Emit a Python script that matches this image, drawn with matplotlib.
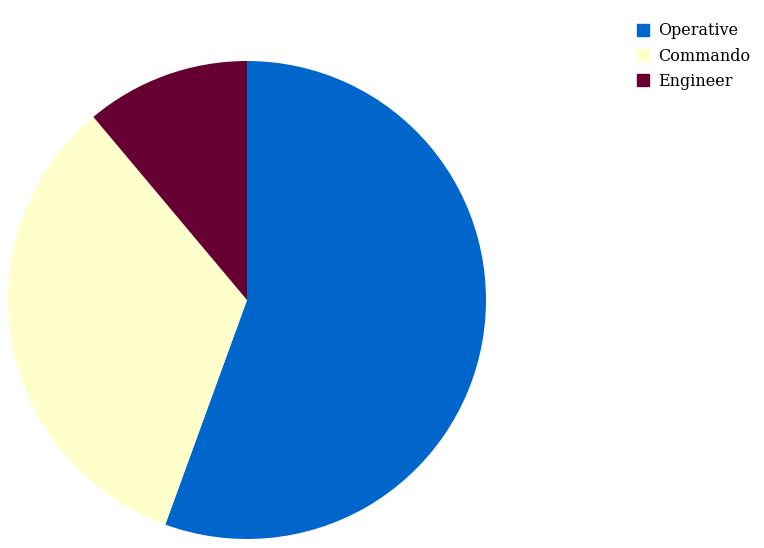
import matplotlib.pyplot as plt
from matplotlib.lines import Line2D

labels = ['Operative', 'Commando', 'Engineer']
values = [5, 3, 1]
colors = ['#0066CC', '#FFFFCC', '#660033']

fig = plt.figure(figsize=(7.64, 5.48), dpi=100)
cx, cy, r = 247, 300, 239
ax = fig.add_axes([(cx - r) / 764, (548 - cy - r) / 548, 2 * r / 764, 2 * r / 548])
ax.pie(values, colors=colors, startangle=90, counterclock=False,
       wedgeprops={'linewidth': 0})
ax.set_aspect('equal')
ax.set_xlim(-1, 1)
ax.set_ylim(-1, 1)

handles = [Line2D([], [], marker='s', linestyle='', markersize=8,
                  markerfacecolor=c, markeredgecolor=c) for c in colors]
fig.legend(handles, labels, loc='upper left', bbox_to_anchor=(630 / 764, 1 - 16 / 548),
           frameon=False, prop={'family': 'DejaVu Serif', 'size': 11.5},
           handlelength=0.8, handletextpad=0.55, labelspacing=0.52, borderaxespad=0)

fig.savefig('out.png', dpi=100)
